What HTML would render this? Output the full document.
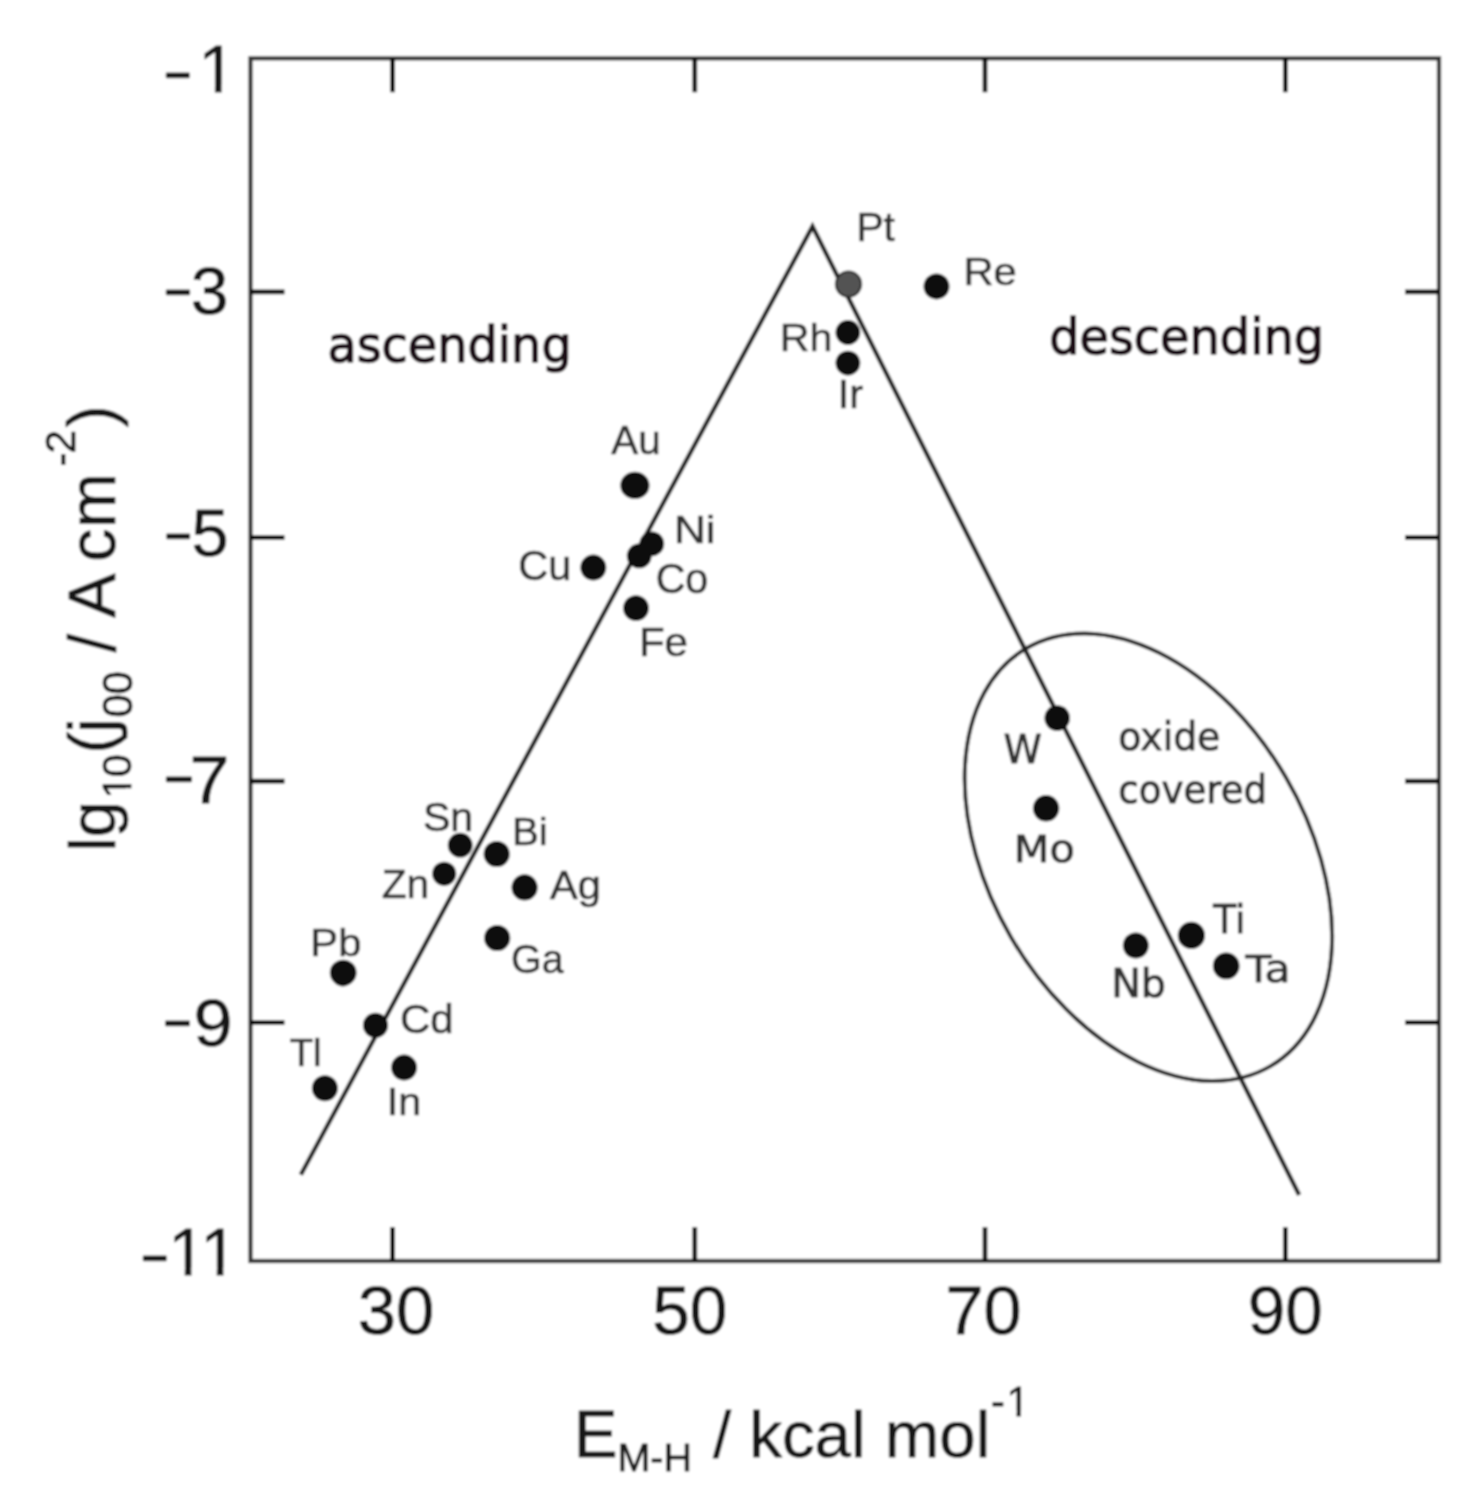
<!DOCTYPE html>
<html lang="en">
<head>
<meta charset="utf-8">
<title>Volcano plot: exchange current density vs M-H bond energy</title>
<style>
html,body{margin:0;padding:0;background:#fff;}
body{width:1476px;height:1509px;overflow:hidden;}
svg{display:block;}
text{white-space:pre;}
</style>
</head>
<body>
<svg width="1476" height="1509" viewBox="0 0 1476 1509">
<defs><filter id="soft" x="0" y="0" width="1476" height="1509" filterUnits="userSpaceOnUse"><feGaussianBlur stdDeviation="0.95"/></filter><clipPath id="one-a"><path clip-rule="evenodd" d="M-400 -400H2200V2200H-400Z M201.56 85.50H214.89V94.20H201.56Z M221.60 85.50H234.41V94.20H221.60Z"/></clipPath><clipPath id="one-b"><path clip-rule="evenodd" d="M-400 -400H2200V2200H-400Z M171.47 1268.23H184.73V1276.90H171.47Z M191.40 1268.23H204.13V1276.90H191.40Z M203.47 1268.23H216.73V1276.90H203.47Z M223.40 1268.23H236.13V1276.90H223.40Z"/></clipPath><clipPath id="one-d"><path clip-rule="evenodd" d="M-400 -400H2200V2200H-400Z M1007.63 1410.69H1016.52V1417.50H1007.63Z M1021.00 1410.69H1029.57V1417.50H1021.00Z"/></clipPath><clipPath id="one-c"><path clip-rule="evenodd" d="M-400 -400H2200V2200H-400Z M51.78 126.11H60.64V132.90H51.78Z M65.10 126.11H73.63V132.90H65.10Z"/></clipPath></defs>
<g filter="url(#soft)">
<rect x="-5" y="-5" width="1486" height="1519" fill="#ffffff"/>
<rect x="250.5" y="58.3" width="1188.5" height="1202.7" fill="none" stroke="#363636" stroke-width="4.3"/>
<path d="M392.6 58.3V92.3 M392.6 1261.0V1227.0 M694.8 58.3V92.3 M694.8 1261.0V1227.0 M985.0 58.3V92.3 M985.0 1261.0V1227.0 M1285.3 58.3V92.3 M1285.3 1261.0V1227.0 M250.5 291.9H284.5 M1439.0 291.9H1405.0 M250.5 537.5H284.5 M1439.0 537.5H1405.0 M250.5 781.1H284.5 M1439.0 781.1H1405.0 M250.5 1022.5H284.5 M1439.0 1022.5H1405.0" fill="none" stroke="#000000" stroke-width="4.7"/>
<path d="M300.8 1174.8 L812.5 226.4 L1299.2 1195" fill="none" stroke="#222222" stroke-width="4.5" stroke-linejoin="miter" stroke-miterlimit="10"/>
<ellipse cx="0" cy="0" rx="242" ry="159" transform="translate(1148.4 857.2) rotate(59.7)" fill="none" stroke="#222222" stroke-width="4.0"/>
<ellipse cx="634.9" cy="485.4" rx="14.6" ry="13.6" fill="#0c0c0c"/>
<ellipse cx="651.8" cy="543.8" rx="12.4" ry="12.4" fill="#0c0c0c"/>
<ellipse cx="639.2" cy="555.9" rx="12.4" ry="12.4" fill="#0c0c0c"/>
<ellipse cx="593.3" cy="567.6" rx="13.0" ry="13.0" fill="#0c0c0c"/>
<ellipse cx="636.0" cy="608.2" rx="12.9" ry="12.9" fill="#0c0c0c"/>
<ellipse cx="936.5" cy="286.4" rx="13.0" ry="13.0" fill="#0c0c0c"/>
<ellipse cx="847.9" cy="332.5" rx="12.4" ry="12.4" fill="#0c0c0c"/>
<ellipse cx="847.9" cy="363.1" rx="12.4" ry="12.4" fill="#0c0c0c"/>
<ellipse cx="1057.2" cy="718.1" rx="12.8" ry="12.8" fill="#0c0c0c"/>
<ellipse cx="1046.1" cy="808.3" rx="13.2" ry="13.2" fill="#0c0c0c"/>
<ellipse cx="1191.4" cy="935.4" rx="13.6" ry="13.6" fill="#0c0c0c"/>
<ellipse cx="1135.8" cy="945.5" rx="13.0" ry="13.0" fill="#0c0c0c"/>
<ellipse cx="1226.2" cy="965.9" rx="13.4" ry="13.4" fill="#0c0c0c"/>
<ellipse cx="460.2" cy="845.2" rx="12.4" ry="12.4" fill="#0c0c0c"/>
<ellipse cx="496.7" cy="854.0" rx="13.1" ry="13.1" fill="#0c0c0c"/>
<ellipse cx="444.2" cy="873.8" rx="12.1" ry="12.1" fill="#0c0c0c"/>
<ellipse cx="524.6" cy="887.4" rx="13.1" ry="13.1" fill="#0c0c0c"/>
<ellipse cx="497.2" cy="938.0" rx="13.1" ry="13.1" fill="#0c0c0c"/>
<ellipse cx="343.2" cy="972.8" rx="13.4" ry="13.0" fill="#0c0c0c"/>
<ellipse cx="375.5" cy="1025.3" rx="12.6" ry="12.6" fill="#0c0c0c"/>
<ellipse cx="404.1" cy="1067.6" rx="13.0" ry="13.0" fill="#0c0c0c"/>
<ellipse cx="324.9" cy="1088.3" rx="13.0" ry="13.0" fill="#0c0c0c"/>
<circle cx="342.8" cy="975.6" r="10.8" fill="#0c0c0c"/>
<circle cx="848.5" cy="284.1" r="12.6" fill="#535353" stroke="#2e2e2e" stroke-width="2.2"/>
<text transform="translate(856.38 241.00) scale(0.9899 1)" font-family='"Liberation Sans", sans-serif' font-size="41.24" fill="#303030" stroke="#303030" stroke-width="0.7" stroke-linejoin="round" vector-effect="non-scaling-stroke">Pt</text>
<text transform="translate(963.41 284.80) scale(1.0530 1)" font-family='"Liberation Sans", sans-serif' font-size="39.64" fill="#303030" stroke="#303030" stroke-width="0.7" stroke-linejoin="round" vector-effect="non-scaling-stroke">Re</text>
<text transform="translate(779.65 350.50) scale(1.0774 1)" font-family='"Liberation Sans", sans-serif' font-size="38.28" fill="#303030" stroke="#303030" stroke-width="0.7" stroke-linejoin="round" vector-effect="non-scaling-stroke">Rh</text>
<text transform="translate(837.47 408.00) scale(1.0441 1)" font-family='"Liberation Sans", sans-serif' font-size="40.22" fill="#303030" stroke="#303030" stroke-width="0.7" stroke-linejoin="round" vector-effect="non-scaling-stroke">Ir</text>
<text transform="translate(611.25 454.40) scale(0.9889 1)" font-family='"Liberation Sans", sans-serif' font-size="40.80" fill="#303030" stroke="#303030" stroke-width="0.7" stroke-linejoin="round" vector-effect="non-scaling-stroke">Au</text>
<text transform="translate(673.91 542.90) scale(1.1251 1)" font-family='"Liberation Sans", sans-serif' font-size="39.24" fill="#303030" stroke="#303030" stroke-width="0.7" stroke-linejoin="round" vector-effect="non-scaling-stroke">Ni</text>
<text transform="translate(518.27 579.60) scale(0.9709 1)" font-family='"Liberation Sans", sans-serif' font-size="42.80" fill="#303030" stroke="#303030" stroke-width="0.7" stroke-linejoin="round" vector-effect="non-scaling-stroke">Cu</text>
<text transform="translate(655.70 593.00) scale(0.9635 1)" font-family='"Liberation Sans", sans-serif' font-size="42.65" fill="#303030" stroke="#303030" stroke-width="0.7" stroke-linejoin="round" vector-effect="non-scaling-stroke">Co</text>
<text transform="translate(638.88 656.10) scale(1.0177 1)" font-family='"Liberation Sans", sans-serif' font-size="41.38" fill="#303030" stroke="#303030" stroke-width="0.7" stroke-linejoin="round" vector-effect="non-scaling-stroke">Fe</text>
<text transform="translate(422.90 831.30) scale(1.0165 1)" font-family='"Liberation Sans", sans-serif' font-size="40.50" fill="#303030" stroke="#303030" stroke-width="0.7" stroke-linejoin="round" vector-effect="non-scaling-stroke">Sn</text>
<text transform="translate(512.04 845.00) scale(1.0524 1)" font-family='"Liberation Sans", sans-serif' font-size="38.14" fill="#303030" stroke="#303030" stroke-width="0.7" stroke-linejoin="round" vector-effect="non-scaling-stroke">Bi</text>
<text transform="translate(381.63 898.10) scale(0.9917 1)" font-family='"Liberation Sans", sans-serif' font-size="41.09" fill="#303030" stroke="#303030" stroke-width="0.7" stroke-linejoin="round" vector-effect="non-scaling-stroke">Zn</text>
<text transform="translate(549.95 898.60) scale(1.0206 1)" font-family='"Liberation Sans", sans-serif' font-size="40.80" fill="#303030" stroke="#303030" stroke-width="0.7" stroke-linejoin="round" vector-effect="non-scaling-stroke">Ag</text>
<text transform="translate(511.08 972.80) scale(0.9506 1)" font-family='"Liberation Sans", sans-serif' font-size="41.51" fill="#303030" stroke="#303030" stroke-width="0.7" stroke-linejoin="round" vector-effect="non-scaling-stroke">Ga</text>
<text transform="translate(310.31 956.10) scale(1.0902 1)" font-family='"Liberation Sans", sans-serif' font-size="38.28" fill="#303030" stroke="#303030" stroke-width="0.7" stroke-linejoin="round" vector-effect="non-scaling-stroke">Pb</text>
<text transform="translate(399.95 1033.00) scale(1.0354 1)" font-family='"Liberation Sans", sans-serif' font-size="40.62" fill="#303030" stroke="#303030" stroke-width="0.7" stroke-linejoin="round" vector-effect="non-scaling-stroke">Cd</text>
<text transform="translate(289.48 1065.70) scale(0.9991 1)" font-family='"Liberation Sans", sans-serif' font-size="38.69" fill="#303030" stroke="#303030" stroke-width="0.7" stroke-linejoin="round" vector-effect="non-scaling-stroke">Tl</text>
<text transform="translate(386.83 1115.30) scale(1.0505 1)" font-family='"Liberation Sans", sans-serif' font-size="39.35" fill="#303030" stroke="#303030" stroke-width="0.7" stroke-linejoin="round" vector-effect="non-scaling-stroke">In</text>
<text transform="translate(1003.44 763.40) scale(0.9975 1)" font-family='"DejaVu Sans", sans-serif' font-size="38.90" fill="#303030" stroke="#303030" stroke-width="1.0" stroke-linejoin="round" vector-effect="non-scaling-stroke">W</text>
<text transform="translate(1013.77 862.40) scale(1.1142 1)" font-family='"DejaVu Sans", sans-serif' font-size="37.12" fill="#303030" stroke="#303030" stroke-width="1.0" stroke-linejoin="round" vector-effect="non-scaling-stroke">Mo</text>
<text transform="translate(1213.29 933.30) scale(0.9498 1)" font-family='"DejaVu Sans", sans-serif' font-size="39.51" fill="#303030" stroke="#303030" stroke-width="1.0" stroke-linejoin="round" vector-effect="non-scaling-stroke">Ti</text>
<text transform="translate(1245.51 982.00) scale(1.1302 1)" font-family='"DejaVu Sans", sans-serif' font-size="37.67" fill="#303030" stroke="#303030" stroke-width="1.0" stroke-linejoin="round" vector-effect="non-scaling-stroke">Ta</text>
<text transform="translate(1111.13 996.90) scale(1.0293 1)" font-family='"DejaVu Sans", sans-serif' font-size="38.55" fill="#303030" stroke="#303030" stroke-width="1.0" stroke-linejoin="round" vector-effect="non-scaling-stroke">Nb</text>
<text transform="translate(1118.32 749.50) scale(0.9576 1)" font-family='"DejaVu Sans", sans-serif' font-size="39.47" fill="#303030" stroke="#303030" stroke-width="1.0" stroke-linejoin="round" vector-effect="non-scaling-stroke">oxide</text>
<text transform="translate(1118.36 803.20) scale(0.9412 1)" font-family='"DejaVu Sans", sans-serif' font-size="39.47" fill="#303030" stroke="#303030" stroke-width="1.0" stroke-linejoin="round" vector-effect="non-scaling-stroke">covered</text>
<text transform="translate(327.38 362.20) scale(0.9572 1)" font-family='"DejaVu Sans", sans-serif' font-size="49.93" fill="#1a1114" stroke="#1a1114" stroke-width="1.5" stroke-linejoin="round" vector-effect="non-scaling-stroke">ascending</text>
<text transform="translate(1049.22 354.20) scale(0.9622 1)" font-family='"DejaVu Sans", sans-serif' font-size="49.67" fill="#1a1114" stroke="#1a1114" stroke-width="1.5" stroke-linejoin="round" vector-effect="non-scaling-stroke">descending</text>
<text transform="scale(1.0161 1)" font-family='"Liberation Sans", sans-serif' fill="#161616" stroke="#161616" stroke-width="0.8" stroke-linejoin="round" vector-effect="non-scaling-stroke"><tspan x="162.45" y="306.57" font-size="44.00" stroke-width="2.6">−</tspan><tspan x="187.83" y="313.93" font-size="66.71">3</tspan></text>
<text transform="scale(0.9968 1)" font-family='"Liberation Sans", sans-serif' fill="#161616" stroke="#161616" stroke-width="0.8" stroke-linejoin="round" vector-effect="non-scaling-stroke"><tspan x="166.14" y="550.78" font-size="44.00" stroke-width="2.6">−</tspan><tspan x="192.15" y="556.43" font-size="66.95">5</tspan></text>
<text transform="scale(1.0924 1)" font-family='"Liberation Sans", sans-serif' fill="#161616" stroke="#161616" stroke-width="0.8" stroke-linejoin="round" vector-effect="non-scaling-stroke"><tspan x="150.94" y="794.18" font-size="44.00" stroke-width="2.6">−</tspan><tspan x="173.58" y="802.60" font-size="65.75">7</tspan></text>
<text transform="scale(1.0401 1)" font-family='"Liberation Sans", sans-serif' fill="#161616" stroke="#161616" stroke-width="0.8" stroke-linejoin="round" vector-effect="non-scaling-stroke"><tspan x="157.98" y="1037.58" font-size="44.00" stroke-width="2.6">−</tspan><tspan x="186.10" y="1045.52" font-size="67.56">9</tspan></text>
<text clip-path="url(#one-a)" font-family='"Liberation Sans", sans-serif' fill="#161616" stroke="#161616" stroke-width="0.8" stroke-linejoin="round" vector-effect="non-scaling-stroke"><tspan x="165.10" y="89.78" font-size="44.00" stroke-width="2.6">−</tspan><tspan x="198.46" y="92.30" font-size="66.91">1</tspan></text>
<text clip-path="url(#one-b)" font-family='"Liberation Sans", sans-serif' fill="#161616" stroke="#161616" stroke-width="0.8" stroke-linejoin="round" vector-effect="non-scaling-stroke"><tspan x="142.10" y="1272.78" font-size="44.00" stroke-width="2.6">−</tspan><tspan x="168.41 200.41" y="1275.00" font-size="66.47">11</tspan></text>
<text transform="scale(1.0098 1)" font-family='"Liberation Sans", sans-serif' fill="#161616" stroke="#161616" stroke-width="0.8" stroke-linejoin="round" vector-effect="non-scaling-stroke"><tspan x="354.36 392.25" y="1333.52" font-size="68.13">30</tspan></text>
<text transform="scale(0.9909 1)" font-family='"Liberation Sans", sans-serif' fill="#161616" stroke="#161616" stroke-width="0.8" stroke-linejoin="round" vector-effect="non-scaling-stroke"><tspan x="658.20 696.09" y="1333.52" font-size="68.13">50</tspan></text>
<text transform="scale(1.0030 1)" font-family='"Liberation Sans", sans-serif' fill="#161616" stroke="#161616" stroke-width="0.8" stroke-linejoin="round" vector-effect="non-scaling-stroke"><tspan x="942.66 980.55" y="1333.52" font-size="68.13">70</tspan></text>
<text transform="scale(0.9910 1)" font-family='"Liberation Sans", sans-serif' fill="#161616" stroke="#161616" stroke-width="0.8" stroke-linejoin="round" vector-effect="non-scaling-stroke"><tspan x="1259.06 1296.95" y="1333.52" font-size="68.13">90</tspan></text>
<text clip-path="url(#one-d)" font-family='"Liberation Sans", sans-serif' fill="#161616" stroke="#161616" stroke-width="0.8" stroke-linejoin="round" vector-effect="non-scaling-stroke"><tspan x="573.77" y="1456.50" font-size="65.80">E</tspan><tspan x="617.44 650.35 663.50" y="1470.60" font-size="39.50">M-H </tspan><tspan x="713.10" y="1456.50" font-size="65.40">/ </tspan><tspan x="749.19 781.89 814.59 850.96" y="1456.50" font-size="65.40">kcal </tspan><tspan x="884.79 939.26 975.64" y="1456.50" font-size="65.40">mol</tspan><tspan x="991.03 1006.46" y="1415.60" font-size="41.60">-1</tspan></text>
<g transform="translate(0 849) rotate(-90)"><text clip-path="url(#one-c)" font-family='"Liberation Sans", sans-serif' fill="#161616" stroke="#161616" stroke-width="0.8" stroke-linejoin="round" vector-effect="non-scaling-stroke"><tspan x="-2.61 11.82" y="114.60" font-size="65.30">lg</tspan><tspan x="50.63 71.74" y="131.00" font-size="41.40">10</tspan><tspan x="95.61 116.34" y="114.30" font-size="65.50">(j</tspan><tspan x="131.42 154.42" y="131.50" font-size="42.00">00 </tspan><tspan x="196.70" y="114.60" font-size="66.00">/ </tspan><tspan x="231.23" y="114.60" font-size="66.50">A </tspan><tspan x="287.19 320.94" y="114.60" font-size="66.00">cm</tspan><tspan x="382.50 395.58" y="74.50" font-size="42.30">-2</tspan><tspan x="421.70" y="114.30" font-size="66.00">)</tspan></text></g>
</g>
</svg>
</body>
</html>
